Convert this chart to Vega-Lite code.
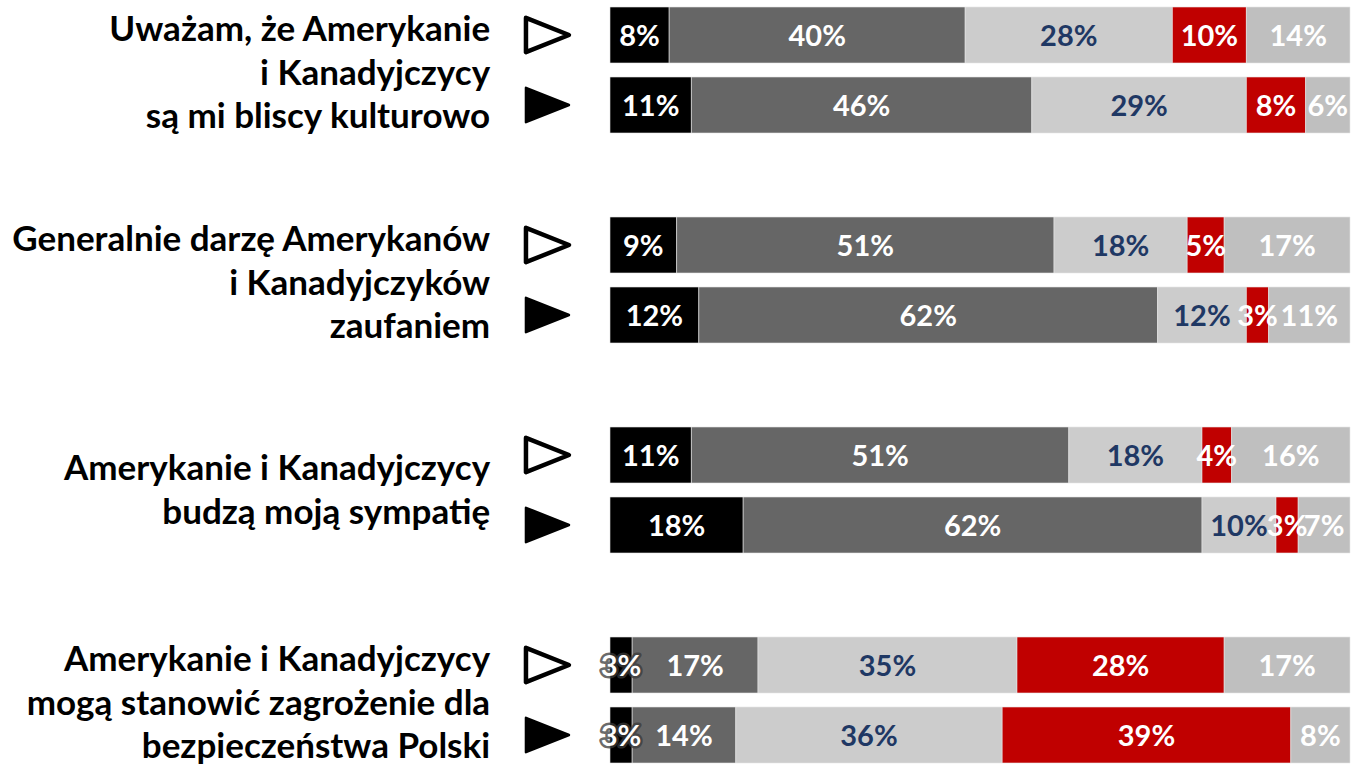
{
  "$schema": "https://vega.github.io/schema/vega-lite/v6.json",
  "autosize": {"type": "none"},
  "padding": 0,
  "width": 1356,
  "height": 770,
  "background": "white",
  "config": {"view": {"stroke": null}, "axis": {"disable": true}},
  "datasets": {
    "bars": [
      {"row": "q1a", "cat": "zdecydowanie tak", "ord": 1, "pct": 8},
      {"row": "q1a", "cat": "raczej tak", "ord": 2, "pct": 40},
      {"row": "q1a", "cat": "raczej nie", "ord": 3, "pct": 28},
      {"row": "q1a", "cat": "zdecydowanie nie", "ord": 4, "pct": 10},
      {"row": "q1a", "cat": "trudno powiedzieć", "ord": 5, "pct": 14},
      {"row": "q1b", "cat": "zdecydowanie tak", "ord": 1, "pct": 11},
      {"row": "q1b", "cat": "raczej tak", "ord": 2, "pct": 46},
      {"row": "q1b", "cat": "raczej nie", "ord": 3, "pct": 29},
      {"row": "q1b", "cat": "zdecydowanie nie", "ord": 4, "pct": 8},
      {"row": "q1b", "cat": "trudno powiedzieć", "ord": 5, "pct": 6},
      {"row": "q2a", "cat": "zdecydowanie tak", "ord": 1, "pct": 9},
      {"row": "q2a", "cat": "raczej tak", "ord": 2, "pct": 51},
      {"row": "q2a", "cat": "raczej nie", "ord": 3, "pct": 18},
      {"row": "q2a", "cat": "zdecydowanie nie", "ord": 4, "pct": 5},
      {"row": "q2a", "cat": "trudno powiedzieć", "ord": 5, "pct": 17},
      {"row": "q2b", "cat": "zdecydowanie tak", "ord": 1, "pct": 12},
      {"row": "q2b", "cat": "raczej tak", "ord": 2, "pct": 62},
      {"row": "q2b", "cat": "raczej nie", "ord": 3, "pct": 12},
      {"row": "q2b", "cat": "zdecydowanie nie", "ord": 4, "pct": 3},
      {"row": "q2b", "cat": "trudno powiedzieć", "ord": 5, "pct": 11},
      {"row": "q3a", "cat": "zdecydowanie tak", "ord": 1, "pct": 11},
      {"row": "q3a", "cat": "raczej tak", "ord": 2, "pct": 51},
      {"row": "q3a", "cat": "raczej nie", "ord": 3, "pct": 18},
      {"row": "q3a", "cat": "zdecydowanie nie", "ord": 4, "pct": 4},
      {"row": "q3a", "cat": "trudno powiedzieć", "ord": 5, "pct": 16},
      {"row": "q3b", "cat": "zdecydowanie tak", "ord": 1, "pct": 18},
      {"row": "q3b", "cat": "raczej tak", "ord": 2, "pct": 62},
      {"row": "q3b", "cat": "raczej nie", "ord": 3, "pct": 10},
      {"row": "q3b", "cat": "zdecydowanie nie", "ord": 4, "pct": 3},
      {"row": "q3b", "cat": "trudno powiedzieć", "ord": 5, "pct": 7},
      {"row": "q4a", "cat": "zdecydowanie tak", "ord": 1, "pct": 3},
      {"row": "q4a", "cat": "raczej tak", "ord": 2, "pct": 17},
      {"row": "q4a", "cat": "raczej nie", "ord": 3, "pct": 35},
      {"row": "q4a", "cat": "zdecydowanie nie", "ord": 4, "pct": 28},
      {"row": "q4a", "cat": "trudno powiedzieć", "ord": 5, "pct": 17},
      {"row": "q4b", "cat": "zdecydowanie tak", "ord": 1, "pct": 3},
      {"row": "q4b", "cat": "raczej tak", "ord": 2, "pct": 14},
      {"row": "q4b", "cat": "raczej nie", "ord": 3, "pct": 36},
      {"row": "q4b", "cat": "zdecydowanie nie", "ord": 4, "pct": 39},
      {"row": "q4b", "cat": "trudno powiedzieć", "ord": 5, "pct": 8}
    ],
    "markers": [
      {"row": "q1a", "wave": "A", "pos": -8.45},
      {"row": "q1b", "wave": "B", "pos": -8.45},
      {"row": "q2a", "wave": "A", "pos": -8.45},
      {"row": "q2b", "wave": "B", "pos": -8.45},
      {"row": "q3a", "wave": "A", "pos": -8.45},
      {"row": "q3b", "wave": "B", "pos": -8.45},
      {"row": "q4a", "wave": "A", "pos": -8.45},
      {"row": "q4b", "wave": "B", "pos": -8.45}
    ],
    "questions": [
      {"row": "q1a", "pos": -16.2, "label": ["Uważam, że Amerykanie", "i Kanadyjczycy", "są mi bliscy kulturowo"]},
      {"row": "q2a", "pos": -16.2, "label": ["Generalnie darzę Amerykanów", "i Kanadyjczyków", "zaufaniem"]},
      {"row": "q3a", "pos": -16.2, "label": ["Amerykanie i Kanadyjczycy", "budzą moją sympatię"]},
      {"row": "q4a", "pos": -16.2, "label": ["Amerykanie i Kanadyjczycy", "mogą stanowić zagrożenie dla", "bezpieczeństwa Polski"]}
    ]
  },
  "layer": [
    {
      "data": {"name": "bars"},
      "transform": [
        {"stack": "pct", "groupby": ["row"], "sort": [{"field": "ord"}], "as": ["x0", "x1"]}
      ],
      "mark": {"type": "bar", "stroke": "#e6e6e6", "strokeWidth": 0.6},
      "encoding": {
        "y": {"field": "row", "type": "nominal", "scale": {"domain": ["q1a","q1b","g1","q2a","q2b","g2","q3a","q3b","g3","q4a","q4b"], "paddingInner": 0.2, "paddingOuter": 0.1}, "axis": null},
        "x": {"field": "x0", "type": "quantitative", "scale": {"domain": [-82.43, 100.81], "nice": false, "zero": false}, "axis": null},
        "x2": {"field": "x1"},
        "color": {"field": "cat", "type": "nominal", "scale": {"domain": ["zdecydowanie tak","raczej tak","raczej nie","zdecydowanie nie","trudno powiedzieć"], "range": ["#000000","#666666","#CCCCCC","#C00000","#BFBFBF"]}, "legend": null}
      }
    },
    {
      "data": {"name": "bars"},
      "transform": [
        {"stack": "pct", "groupby": ["row"], "sort": [{"field": "ord"}], "as": ["x0", "x1"]},
        {"filter": "datum.ord === 1 && datum.pct < 5"},
        {"calculate": "(datum.x0 + datum.x1) / 2", "as": "mid"},
        {"calculate": "datum.pct + '%'", "as": "lbl"}
      ],
      "mark": {"type": "text", "font": "Lato", "fontWeight": "bold", "fontSize": 29, "align": "center", "baseline": "middle", "dy": 2, "stroke": "#3a3a3a", "strokeWidth": 5, "strokeOpacity": 0.75, "strokeJoin": "round", "fill": "#3a3a3a"},
      "encoding": {
        "y": {"field": "row", "type": "nominal", "axis": null},
        "x": {"field": "mid", "type": "quantitative", "axis": null},
        "text": {"field": "lbl"}
      }
    },
    {
      "data": {"name": "bars"},
      "transform": [
        {"stack": "pct", "groupby": ["row"], "sort": [{"field": "ord"}], "as": ["x0", "x1"]},
        {"calculate": "(datum.x0 + datum.x1) / 2", "as": "mid"},
        {"calculate": "datum.pct + '%'", "as": "lbl"}
      ],
      "mark": {"type": "text", "font": "Lato", "fontWeight": "bold", "fontSize": 29, "align": "center", "baseline": "middle", "dy": 2},
      "encoding": {
        "y": {"field": "row", "type": "nominal", "axis": null},
        "x": {"field": "mid", "type": "quantitative", "axis": null},
        "text": {"field": "lbl"},
        "color": {"condition": {"test": "datum.cat === 'raczej nie'", "value": "#1F3864"}, "value": "#ffffff"}
      }
    },
    {
      "data": {"name": "markers"},
      "mark": {"type": "point", "shape": "M-1,-0.8L1,0L-1,0.8Z", "size": 1849, "stroke": "#000000", "opacity": 1, "strokeJoin": "round"},
      "encoding": {
        "y": {"field": "row", "type": "nominal", "axis": null},
        "x": {"field": "pos", "type": "quantitative", "axis": null},
        "fill": {"field": "wave", "type": "nominal", "scale": {"domain": ["A","B"], "range": ["#ffffff","#000000"]}, "legend": null},
        "strokeWidth": {"field": "wave", "type": "nominal", "scale": {"domain": ["A","B"], "range": [4.5, 2.5]}, "legend": null}
      }
    },
    {
      "data": {"name": "questions"},
      "transform": [{"filter": "length(datum.label) === 3"}],
      "mark": {"type": "text", "font": "Lato", "fontWeight": "bold", "fontSize": 35, "align": "right", "baseline": "middle", "lineHeight": 43.5, "dy": -5, "color": "#000000"},
      "encoding": {
        "y": {"field": "row", "type": "nominal", "axis": null},
        "x": {"field": "pos", "type": "quantitative", "axis": null},
        "text": {"field": "label"}
      }
    },
    {
      "data": {"name": "questions"},
      "transform": [{"filter": "length(datum.label) === 2"}],
      "mark": {"type": "text", "font": "Lato", "fontWeight": "bold", "fontSize": 35, "align": "right", "baseline": "middle", "lineHeight": 44, "dy": 14, "color": "#000000"},
      "encoding": {
        "y": {"field": "row", "type": "nominal", "axis": null},
        "x": {"field": "pos", "type": "quantitative", "axis": null},
        "text": {"field": "label"}
      }
    }
  ]
}
